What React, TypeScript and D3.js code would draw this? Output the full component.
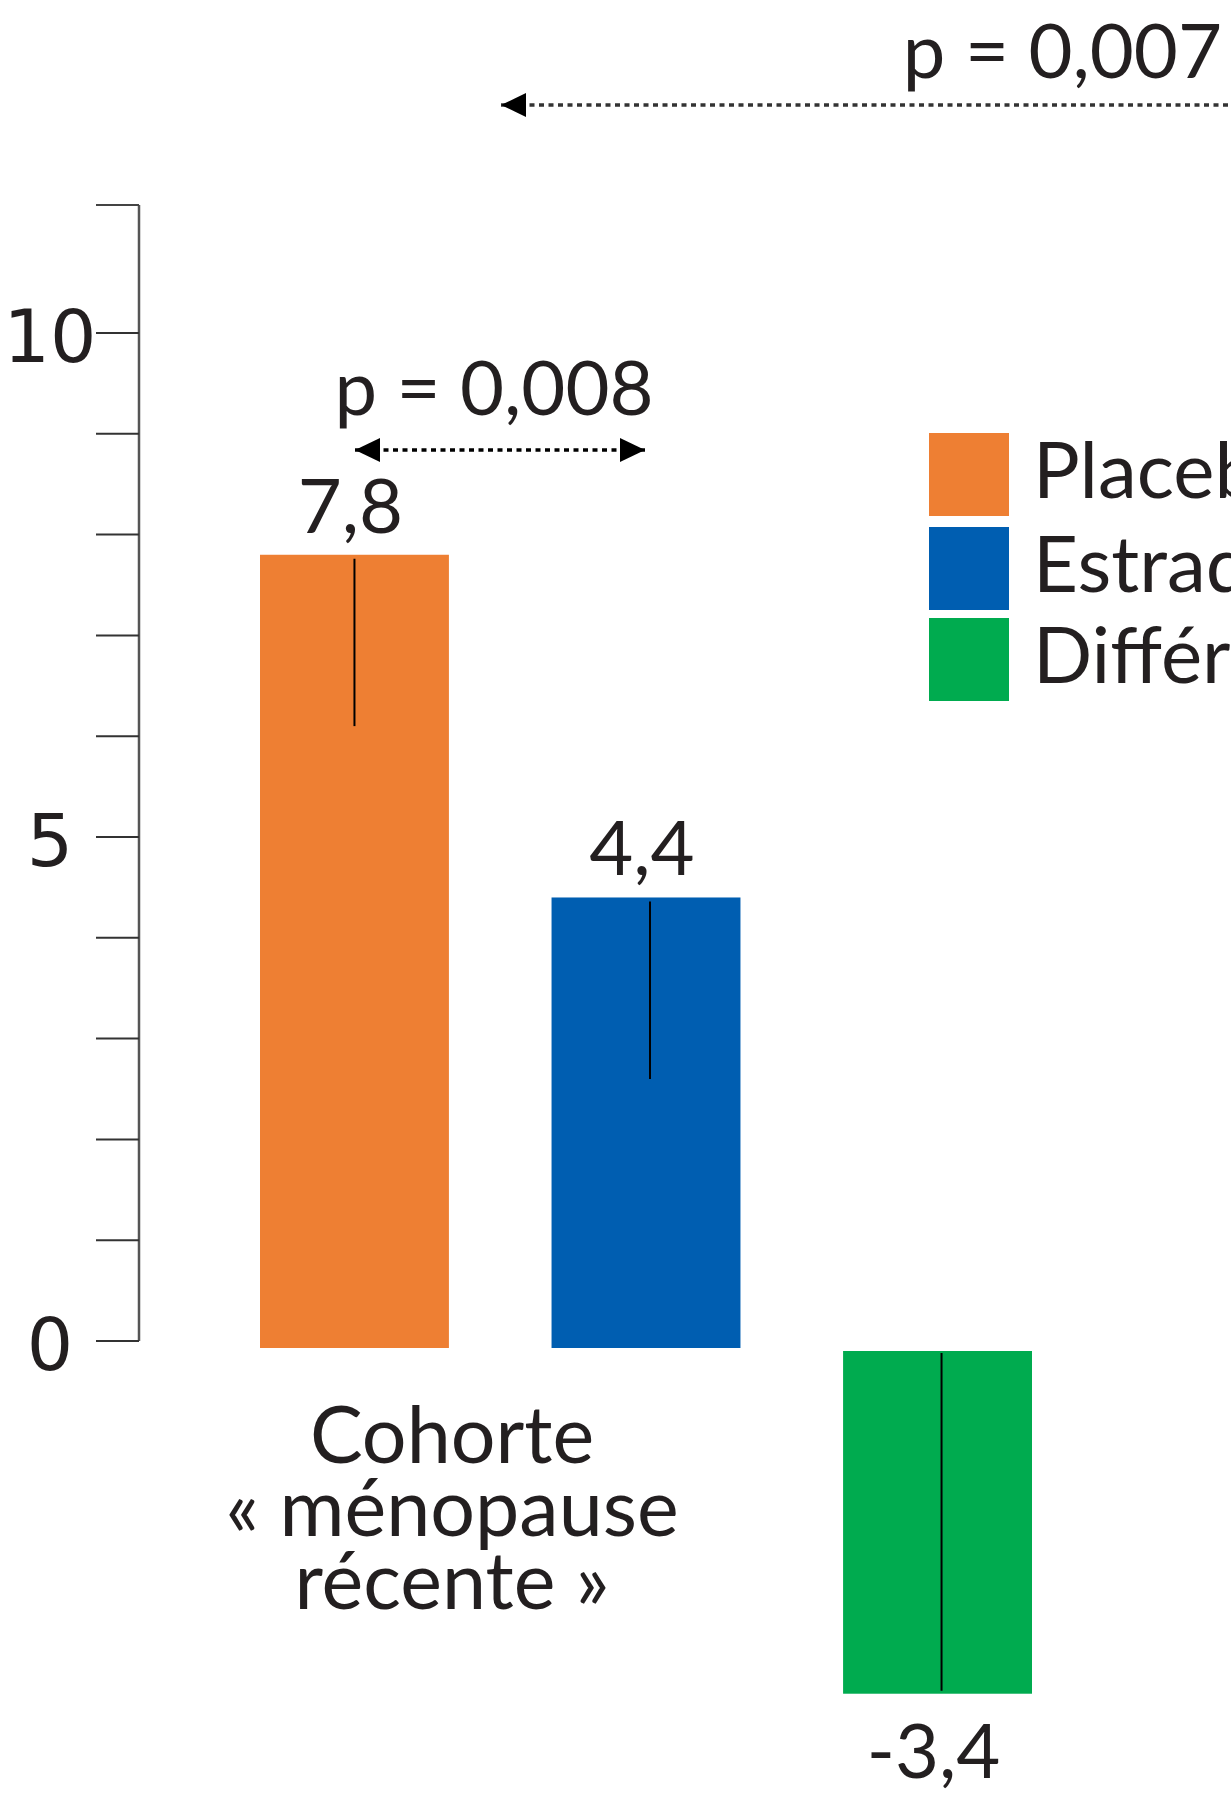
import React from "react";
import * as d3 from "d3";

const categories = ["Placebo", "Estradiol", "Différence"];
const values = [7.8, 4.4, -3.4];
const errorEnds = [6.1, 2.6, 0];
const valueLabels = ["7,8", "4,4", "-3,4"];
const colors = ["#EE7F33", "#005EB1", "#00AB4F"];
const tickValues = d3.range(0, 11);
const tickLabels = ["0", "5", "10"];
const cohortLines = ["Cohorte", "« ménopause", "récente »"];
const pInner = "p = 0,008";
const pOuter = "p = 0,007";

const W = 1231;
const H = 1794;
const textColor = "#231F20";
const font = "Lato, 'Open Sans', sans-serif";

export default function App() {
  const y = d3.scaleLinear().domain([0, 10]).range([1341, 333]);
  const x = d3
    .scaleBand()
    .domain(categories)
    .range([260, 1032])
    .paddingInner(0.352)
    .paddingOuter(0);
  const bw = x.bandwidth();
  const axisX = 139;
  const axisTop = y(11.27);
  // bars start a few px off the zero tick in the original
  const posGap = 7;
  const negGap = 10;

  return (
    <div style={{ position: "absolute", left: 0, top: 0 }}>
      <svg width={W} height={H} style={{ display: "block" }}>
        <defs>
          <marker
            id="head"
            markerUnits="userSpaceOnUse"
            markerWidth={26}
            markerHeight={24}
            refX={25}
            refY={12}
            orient="auto-start-reverse"
          >
            <path d="M0,0 L25,12 L0,24 Z" fill="#000" />
          </marker>
        </defs>
        <rect width={W} height={H} fill="#fff" />

        {/* y axis */}
        <line x1={axisX} x2={axisX} y1={axisTop} y2={y(0)} stroke="#555" strokeWidth={2.5} />
        <line x1={96} x2={axisX} y1={axisTop} y2={axisTop} stroke="#444" strokeWidth={2} />
        {tickValues.map((t) => (
          <line key={t} x1={96} x2={axisX} y1={y(t)} y2={y(t)} stroke="#333" strokeWidth={2} />
        ))}
        {tickLabels.map((t) => (
          <text
            key={t}
            x={50}
            y={y(+t) + 29}
            textAnchor="middle"
            fontFamily="'DejaVu Sans', sans-serif"
            fontSize={73}
            fill={textColor}
          >
            {t}
          </text>
        ))}

        {/* bars */}
        {categories.map((c, i) => {
          const v = values[i];
          const x0 = x(c)!;
          const top = v >= 0 ? y(v) : y(0) + negGap;
          const bottom = v >= 0 ? y(0) + posGap : y(v) + negGap;
          const cx = x0 + bw / 2;
          const e1 = v >= 0 ? y(v) + 4 : y(errorEnds[i]) + negGap + 2;
          const e2 = v >= 0 ? y(errorEnds[i]) : y(v) + negGap - 3;
          return (
            <g key={c}>
              <rect x={x0} y={top} width={bw} height={bottom - top} fill={colors[i]} />
              <line x1={cx + (i ? 4 : 0)} x2={cx + (i ? 4 : 0)} y1={e1} y2={e2} stroke="#000" strokeWidth={2} />
              <text
                x={cx - 4}
                y={v >= 0 ? top - 22 : bottom + 84}
                textAnchor="middle"
                fontFamily={font}
                fontSize={76}
                fill={textColor}
              >
                {valueLabels[i]}
              </text>
            </g>
          );
        })}

        {/* category label */}
        {cohortLines.map((l, i) => (
          <text
            key={l}
            x={452}
            y={1463 + i * 73}
            textAnchor="middle"
            fontFamily={font}
            fontSize={79}
            fill={textColor}
          >
            {l}
          </text>
        ))}

        {/* p-value placebo vs estradiol */}
        <text x={494} y={415} textAnchor="middle" fontFamily={font} fontSize={76} fill={textColor}>
          {pInner}
        </text>
        <line
          x1={355}
          x2={645}
          y1={450}
          y2={450}
          stroke="#000"
          strokeWidth={3.5}
          strokeDasharray="5 4.5"
          markerStart="url(#head)"
          markerEnd="url(#head)"
        />

        {/* p-value across cohorts */}
        <text x={1222} y={78} textAnchor="end" fontFamily={font} fontSize={76} fill={textColor}>
          {pOuter}
        </text>
        <line
          x1={501}
          x2={1250}
          y1={105}
          y2={105}
          stroke="#333"
          strokeWidth={3.5}
          strokeDasharray="5 4.5"
          markerStart="url(#head)"
        />

        {/* legend */}
        {categories.map((c, i) => {
          const ly = [433, 527, 618][i];
          return (
            <g key={c}>
              <rect x={929} y={ly} width={80} height={83} fill={colors[i]} />
              <text x={1033} y={ly + 65} fontFamily={font} fontSize={78} fill={textColor}>
                {c}
              </text>
            </g>
          );
        })}
      </svg>
    </div>
  );
}
